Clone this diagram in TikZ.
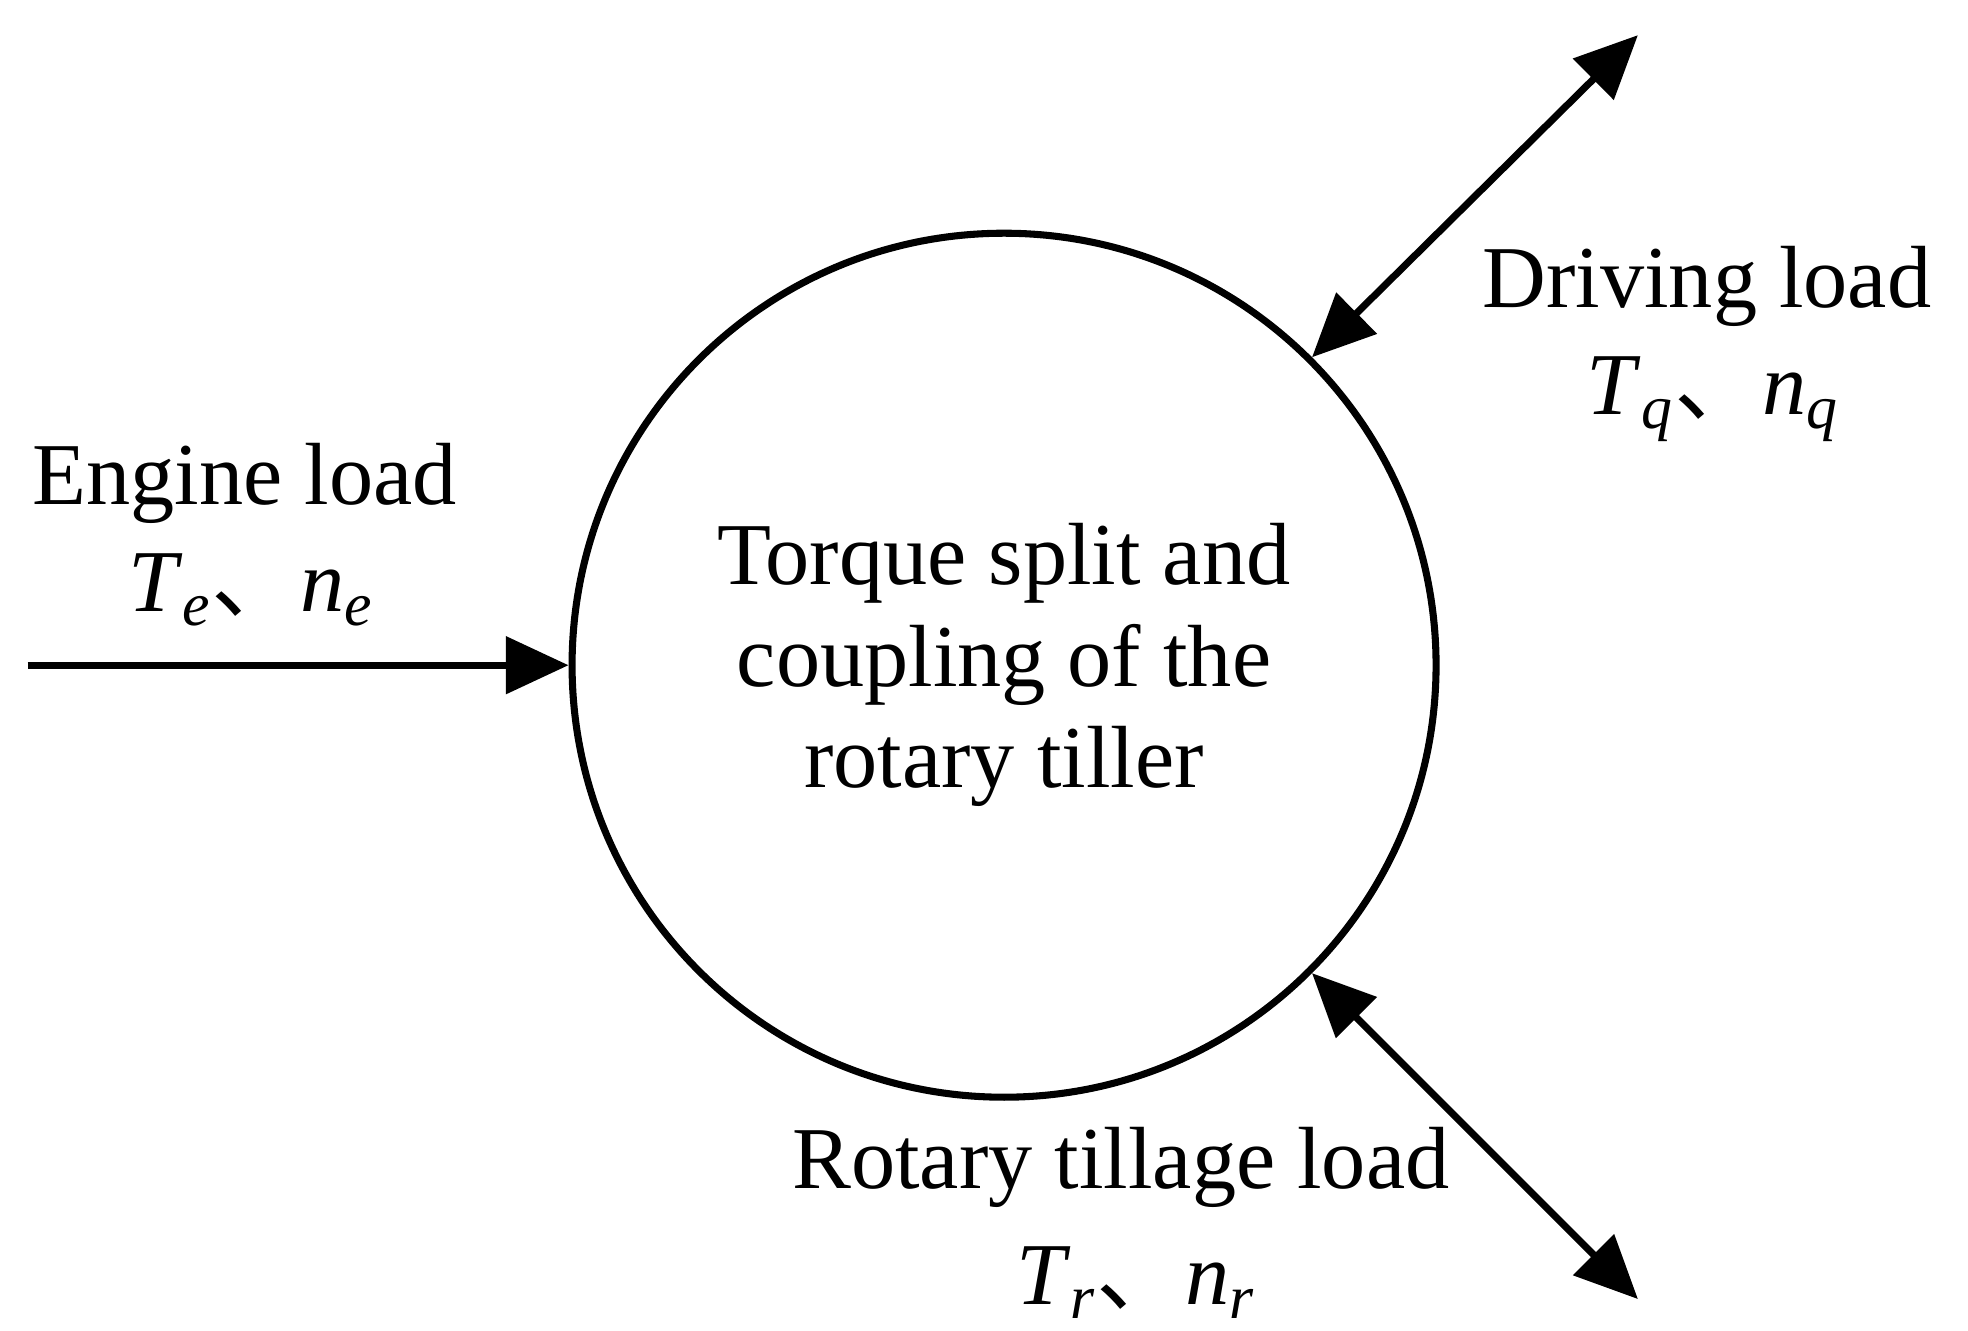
\documentclass[tikz,border=0pt]{standalone}
\usepackage{fontspec}
\setmainfont{Liberation Serif}
\newfontfamily\cjk{Noto Sans CJK SC}
\usetikzlibrary{arrows.meta}
\begin{document}
\begin{tikzpicture}[x=0.01cm,y=-0.01cm,
  lbl/.style={font=\fontsize{20}{25}\selectfont, align=center},
  ln/.style={line width=1.6pt, -{Triangle[length=0.5cm,width=0.45cm]}},
  dl/.style={line width=1.6pt, {Triangle[length=0.5cm,width=0.45cm]}-{Triangle[length=0.5cm,width=0.45cm]}}]
\useasboundingbox (0,0) rectangle (1568,1060);
\node[circle, draw, line width=1.6pt, minimum size=6.88cm, inner sep=0pt] (c) at (800,530) {};
\node[lbl] (ct) at (800,530) {Torque split and\\[-2pt]coupling of the\\[-2pt]rotary tiller};
\coordinate (e0) at (22,530);
\draw[ln] (e0) -- (c.west);
\coordinate (u1) at (1305,28);
\coordinate (d1) at (1305,1035);
\draw[dl] (u1) -- (c.45);
\draw[dl] (d1) -- (c.-45);
\node[lbl] (el) at (195,385) {Engine load};
\node[lbl] (ev) at (200,470) {\textit{T}\textsubscript{\textit{e}}{\cjk 、}\textit{n}\textsubscript{\textit{e}}};
\node[lbl] (dll) at (1360,228) {Driving load};
\node[lbl] (dv) at (1365,318) {\textit{T}\textsubscript{\textit{q}}{\cjk 、}\textit{n}\textsubscript{\textit{q}}};
\node[lbl] (rl) at (893,930) {Rotary tillage load};
\node[lbl] (rv) at (905,1022) {\textit{T}\textsubscript{\textit{r}}{\cjk 、}\textit{n}\textsubscript{\textit{r}}};
\end{tikzpicture}
\end{document}
